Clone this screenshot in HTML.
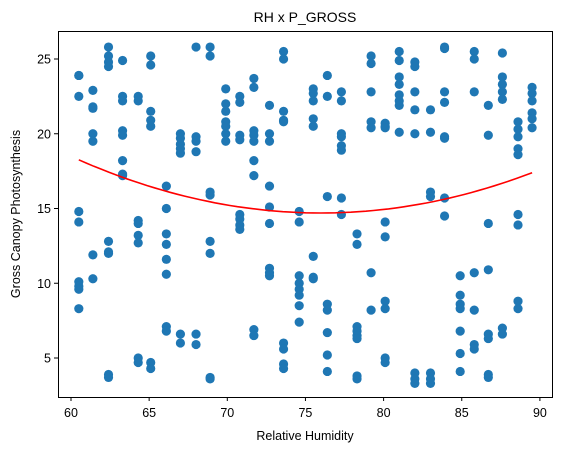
<!DOCTYPE html>
<html><head><meta charset="utf-8"><style>
body{margin:0;background:#fff;}
svg text{font-family:"Liberation Sans","DejaVu Sans",sans-serif;fill:#000;}
</style></head><body>
<svg id="chart" width="563" height="453" xmlns="http://www.w3.org/2000/svg">
<rect x="0" y="0" width="563" height="453" fill="#fff"/>
<text x="305" y="22" font-size="14" text-anchor="middle">RH x P_GROSS</text>
<g id="points"></g>
<path id="fit" fill="none" stroke="#ff0000" stroke-width="1.6"/>
<rect x="58.5" y="31.5" width="494" height="366" fill="none" stroke="#000" stroke-width="1"/>
<g id="xticks"></g>
<g id="yticks"></g>
<text x="305" y="440" font-size="12.5" text-anchor="middle">Relative Humidity</text>
<text x="0" y="0" font-size="12.5" text-anchor="middle" transform="translate(20,214) rotate(-90)">Gross Canopy Photosynthesis</text>
</svg>
<script>
const xCols=[60.5,61.4,62.4,63.3,64.3,65.1,66.1,67.0,68.0,68.9,69.9,70.8,71.7,72.7,73.6,74.6,75.5,76.4,77.3,78.3,79.2,80.1,81.0,82.0,83.0,83.9,84.9,85.8,86.7,87.6,88.6,89.5];
const yCols=[
[23.9,23.9,22.5,14.8,14.1,10.1,9.8,9.6,8.3],
[22.9,21.8,21.7,20.0,19.5,11.9,10.3],
[25.8,25.2,24.8,24.5,12.8,12.1,12.0,3.9,3.7],
[24.9,22.5,22.2,20.2,19.9,18.2,17.3,17.2],
[22.5,22.2,14.2,14.0,13.2,12.7,5.0,4.7],
[25.2,24.6,21.5,20.9,20.5,4.7,4.3],
[16.5,15.0,13.3,12.6,11.6,10.6,7.1,6.8],
[20.0,19.7,19.3,19.0,18.7,6.6,6.0],
[25.8,19.8,19.5,18.8,6.6,5.9],
[25.8,25.2,16.1,15.9,12.8,12.0,3.7,3.6],
[23.0,22.0,21.5,20.8,20.5,20.0,19.5],
[22.5,22.1,19.9,19.6,14.6,14.3,13.9,13.6],
[23.7,23.1,20.2,19.9,19.5,18.2,17.2,6.9,6.5],
[21.9,20.0,19.5,16.5,15.1,14.0,11.0,10.7,10.5],
[25.5,25.0,21.5,20.9,20.8,6.0,5.6,4.6,4.3],
[14.8,14.1,10.5,10.0,9.6,9.2,8.5,7.4],
[23.0,22.7,22.2,21.0,20.5,11.8,10.4,10.3],
[23.9,22.5,15.8,8.6,8.2,6.7,5.2,4.1],
[22.8,22.2,20.0,19.8,19.2,18.9,15.7,14.6],
[13.3,12.6,7.1,6.8,6.5,6.3,3.8,3.6],
[25.2,24.7,22.8,20.8,20.4,10.7,8.2],
[20.7,20.5,20.4,14.1,13.1,8.8,8.3,5.0,4.7],
[25.5,24.9,23.8,23.3,22.6,22.2,21.9,20.1],
[24.8,24.5,22.8,21.6,20.0,4.0,3.6,3.3],
[21.6,20.1,16.1,15.8,4.0,3.6,3.3],
[25.8,25.7,22.8,22.1,19.8,19.7,15.7,14.5],
[10.5,9.2,8.6,8.3,6.8,5.3,4.1],
[25.5,25.0,22.8,10.7,8.2,5.9,5.6],
[21.9,19.9,14.0,10.9,6.6,6.3,3.9,3.7],
[25.4,23.8,23.3,22.8,22.3,7.0,6.6],
[20.8,20.3,19.8,19.0,18.6,14.6,13.9,8.8,8.3],
[23.1,22.7,22.2,21.4,21.0,20.4]
];
const xTicks=[60,65,70,75,80,85,90];
const yTicks=[5,10,15,20,25];
const fitCoef=[14.7,0.0148,76]; // y = c0 + c1*(x-c2)^2
const fitRange=[60.5,89.5];

const sx=v=>71+(v-60)*15.63;
const sy=v=>358-(v-5)*14.95;
const NS='http://www.w3.org/2000/svg';
const pg=document.getElementById('points');
xCols.forEach((xv,i)=>{
  yCols[i].forEach(yv=>{
    const c=document.createElementNS(NS,'circle');
    
    
    c.setAttribute('cx',sx(xv));c.setAttribute('cy',sy(yv));c.setAttribute('r',4.6);
    c.setAttribute('fill','#1f77b4');
    pg.appendChild(c);
  });
});
let d='';
for(let k=0;k<=60;k++){
  const xv=fitRange[0]+(fitRange[1]-fitRange[0])*k/60;
  const yv=fitCoef[0]+fitCoef[1]*(xv-fitCoef[2])**2;
  d+=(k?'L':'M')+sx(xv).toFixed(1)+','+sy(yv).toFixed(1);
}
document.getElementById('fit').setAttribute('d',d);
const xg=document.getElementById('xticks');
xTicks.forEach(t=>{
  const l=document.createElementNS(NS,'line');
  
  
  l.setAttribute('x1',sx(t));l.setAttribute('x2',sx(t));l.setAttribute('y1',397);l.setAttribute('y2',401);l.setAttribute('stroke','#000');
  xg.appendChild(l);
  const tx=document.createElementNS(NS,'text');
  
  
  tx.setAttribute('x',sx(t));tx.setAttribute('y',417);tx.setAttribute('font-size','12.5');tx.setAttribute('text-anchor','middle');
  tx.textContent=t;xg.appendChild(tx);
});
const yg=document.getElementById('yticks');
yTicks.forEach(t=>{
  const l=document.createElementNS(NS,'line');
  
  
  l.setAttribute('x1',54);l.setAttribute('x2',58);l.setAttribute('y1',sy(t));l.setAttribute('y2',sy(t));l.setAttribute('stroke','#000');
  yg.appendChild(l);
  const tx=document.createElementNS(NS,'text');
  
  
  tx.setAttribute('x',51);tx.setAttribute('y',sy(t)+4.5);tx.setAttribute('font-size','12.5');tx.setAttribute('text-anchor','end');
  tx.textContent=t;yg.appendChild(tx);
});
</script>
</body></html>
